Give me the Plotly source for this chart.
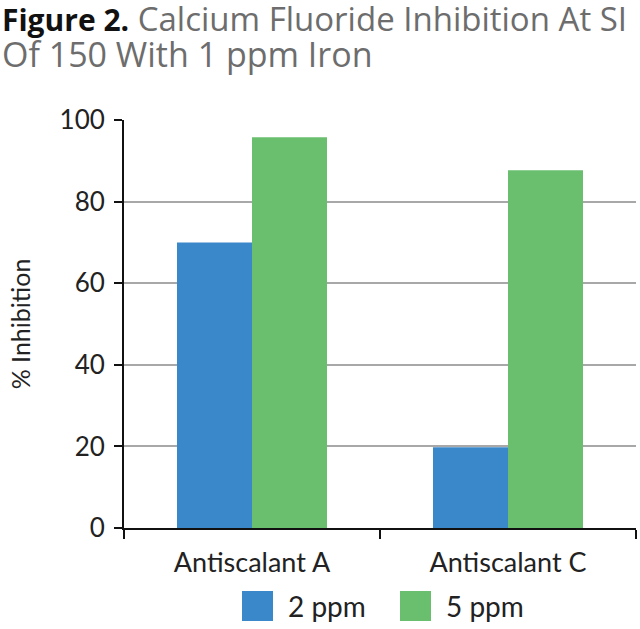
import plotly.graph_objects as go

categories = ["Antiscalant A", "Antiscalant C"]
series_names = ["2 ppm", "5 ppm"]
vals_2ppm = [70.0, 19.8]
vals_5ppm = [95.8, 87.7]
y_ticks = [0, 20, 40, 60, 80, 100]

colors = ["#3a88c9", "#6abf6f"]
FONT = "Lato"
TFONT = "Open Sans"
TXT = "#222222"

L, R, T, B = 124, 4, 120, 101
W, H = 640, 629
PW, PH = W - L - R, H - T - B

def px_x(x):
    return (x - L) / PW

def px_y(y):
    return (H - B - y) / PH

fig = go.Figure()
for name, vals, c in zip(series_names, [vals_2ppm, vals_5ppm], colors):
    fig.add_trace(go.Bar(x=categories, y=vals, name=name, marker_color=c,
                         marker_line_width=0, showlegend=False))

# legend drawn as keys + labels below the plot
shapes = []
annotations = []
key_x = [242, 400]
for name, c, kx in zip(series_names, colors, key_x):
    shapes.append(dict(type="rect", xref="paper", yref="paper",
                       x0=px_x(kx), x1=px_x(kx + 31), y0=px_y(621), y1=px_y(591),
                       fillcolor=c, line_width=0))
    annotations.append(dict(xref="paper", yref="paper", x=px_x(kx + 44), y=px_y(606),
                            xanchor="left", yanchor="middle", showarrow=False,
                            text=name, font=dict(family=FONT, size=28, color=TXT)))

annotations.append(dict(
    xref="paper", yref="paper", x=px_x(0), y=px_y(18),
    xanchor="left", yanchor="middle", align="left", showarrow=False,
    text="<b><span style='color:#111111;font-size:30px'>Figure 2.</span></b> Calcium Fluoride Inhibition At SI",
    font=dict(family=TFONT, size=33, color="#6d6d6d")))
annotations.append(dict(
    xref="paper", yref="paper", x=px_x(0), y=px_y(54),
    xanchor="left", yanchor="middle", align="left", showarrow=False,
    text="Of 150 With 1 ppm Iron",
    font=dict(family=TFONT, size=34, color="#6d6d6d")))

fig.update_layout(
    width=W, height=H,
    margin=dict(l=L, r=R, t=T, b=B),
    paper_bgcolor="white", plot_bgcolor="white",
    barmode="group", bargap=0.414, bargroupgap=0,
    font=dict(family=FONT, size=26, color=TXT),
    showlegend=False,
    shapes=shapes,
    annotations=annotations,
)
fig.update_xaxes(showline=True, linecolor="#111111", linewidth=2,
                 ticks="outside", tickson="boundaries", ticklen=9, tickwidth=2,
                 tickcolor="#111111", ticklabelstandoff=10, automargin=False,
                 tickfont=dict(size=27, color=TXT), showgrid=False)
fig.update_yaxes(range=[0, 100], tickvals=y_ticks, showline=True,
                 linecolor="#111111", linewidth=2, ticks="outside", ticklen=8,
                 tickwidth=2, tickcolor="#111111", showgrid=True,
                 gridcolor="#a8a8a8", gridwidth=1.5, zeroline=False,
                 automargin=False, ticklabelstandoff=4,
                 tickfont=dict(size=26, color=TXT),
                 title=dict(text="% Inhibition", font=dict(size=25, color=TXT),
                            standoff=22))
fig.write_html("out.html", config={"displayModeBar": False},
               post_script="document.body.style.margin='0';document.body.style.overflow='hidden';")
